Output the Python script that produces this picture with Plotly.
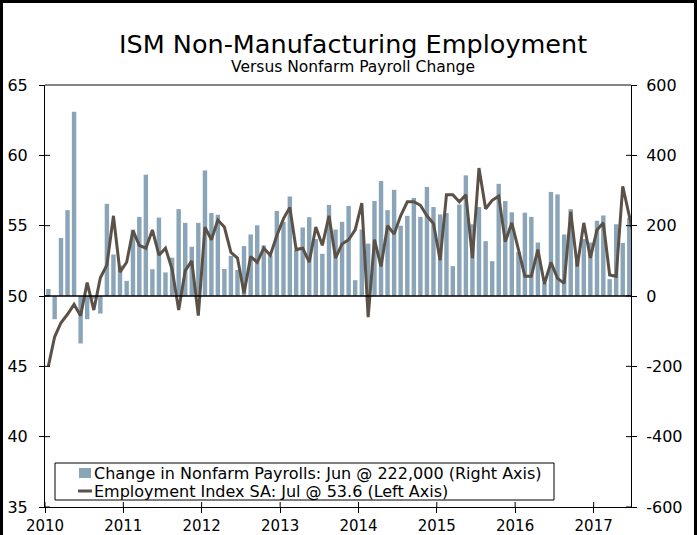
import pandas as pd
import plotly.graph_objects as go

# ---------------- data ----------------
start_month = "2010-01-01"
payroll_change = [  # thousands, Jan 2010 - Jun 2017 (right axis)
    20, -66, 165, 244, 524, -135, -66, -8, -50, 262, 118, 87,
    43, 189, 225, 345, 76, 223, 67, 109, 247, 208, 140, 208,
    357, 236, 231, 77, 114, 74, 142, 175, 201, 144, 116, 242,
    211, 283, 130, 195, 224, 162, 120, 259, 189, 211, 256, 45,
    189, 149, 270, 327, 244, 302, 200, 228, 279, 225, 310, 253,
    232, 236, 85, 260, 343, 204, 253, 156, 99, 319, 270, 238,
    125, 237, 225, 152, 36, 296, 289, 175, 247, 100, 162, 152,
    214, 229, 48, 204, 151, 222,
]
employment_index = [  # ISM non-manufacturing employment, Jan 2010 - Jul 2017 (left axis)
    45.0, 47.1, 48.1, 48.7, 49.4, 48.6, 50.95, 49.0, 51.3, 52.2, 55.7, 51.7,
    52.4, 54.65, 53.6, 53.4, 54.7, 52.9, 53.4, 51.9, 49.0, 51.8, 52.5, 48.6,
    54.9, 54.0, 55.4, 54.9, 53.1, 52.7, 50.2, 52.8, 52.4, 53.4, 52.9, 54.3,
    55.5, 56.3, 53.3, 53.4, 52.4, 54.9, 53.6, 55.7, 52.7, 53.7, 54.0, 54.7,
    56.6, 48.5, 54.0, 52.1, 55.0, 54.4, 55.7, 56.7, 56.7, 56.45, 55.7, 55.15,
    52.55, 57.2, 57.2, 56.7, 57.2, 52.7, 59.1, 56.2, 56.8, 57.1, 53.85, 55.2,
    53.3, 51.4, 51.4, 53.3, 50.85, 52.4, 51.25, 50.9, 56.0, 52.1, 55.2, 52.7,
    54.7, 55.2, 51.5, 51.4, 57.8, 55.8, 53.6,
]
year_ticks = ["2010", "2011", "2012", "2013", "2014", "2015", "2016", "2017"]
left_ticks = [35, 40, 45, 50, 55, 60, 65]
right_ticks = [-600, -400, -200, 0, 200, 400, 600]
right_tick_text = ["-600", "-400", "-200", "0", "200", "400", "600"]

bar_name = "Change in Nonfarm Payrolls: Jun @ 222,000 (Right Axis)"
line_name = "Employment Index SA: Jul @ 53.6 (Left Axis)"

months_bar = pd.date_range(start_month, periods=len(payroll_change), freq="MS")
months_line = pd.date_range(start_month, periods=len(employment_index), freq="MS")

FONT = "DejaVu Sans"
BAR_COLOR = "#8BA5B8"
LINE_COLOR = "#5B5147"
TICK_FS = 16

W, H = 697, 535
ML, MR, MT, MB = 45, 66, 85, 28
PW, PH = W - ML - MR, H - MT - MB


def px_x(px):
    return (px - ML) / PW


def px_y(py):
    return 1 - (py - MT) / PH


fig = go.Figure()
fig.add_trace(go.Bar(
    x=months_bar, y=payroll_change, name=bar_name,
    xperiod="M1", xperiodalignment="middle",
    marker=dict(color=BAR_COLOR, line=dict(width=0)),
    yaxis="y", showlegend=False,
))
fig.add_trace(go.Scatter(
    x=months_line, y=employment_index, name=line_name, mode="lines",
    xperiod="M1", xperiodalignment="middle",
    line=dict(color=LINE_COLOR, width=3),
    yaxis="y2", showlegend=False,
))

fig.update_layout(
    width=W, height=H, autosize=False,
    margin=dict(l=ML, r=MR, t=MT, b=MB, pad=0, autoexpand=False),
    paper_bgcolor="white", plot_bgcolor="white",
    font=dict(family=FONT, size=TICK_FS, color="black"),
    bargap=0.3,
    showlegend=False,
    xaxis=dict(
        type="date", range=["2010-01-01", "2017-06-24"],
        tickvals=[f"{y}-01-01" for y in year_ticks], ticktext=year_ticks,
        showline=True, linecolor="black", linewidth=1,
        ticks="outside", ticklen=5, tickcolor="black",
        showgrid=False, zeroline=False, anchor="y", automargin=False,
        ticklabelstandoff=0,
        tickfont=dict(size=15),
    ),
    yaxis=dict(
        side="right", range=[-600, 600],
        tickvals=right_ticks, ticktext=right_tick_text,
        showline=True, linecolor="black", linewidth=1,
        ticks="outside", ticklen=5, tickcolor="black",
        showgrid=False, zeroline=False,
        ticklabelstandoff=6, automargin=False,
        tickfont=dict(size=TICK_FS),
    ),
    yaxis2=dict(
        side="left", overlaying="y", range=[35, 65],
        tickvals=left_ticks,
        showline=True, linecolor="black", linewidth=1,
        ticks="outside", ticklen=5, tickcolor="black",
        showgrid=False, zeroline=False,
        ticklabelstandoff=8, automargin=False,
        tickfont=dict(size=TICK_FS),
    ),
)

# zero line of the payroll axis, drawn over the bars
fig.add_shape(type="line", xref="paper", yref="y", x0=0, x1=1, y0=0, y1=0,
              line=dict(color="black", width=1.5), layer="above")

# inner halves of the crossing tick marks
for v in left_ticks:
    fig.add_shape(type="line", xref="paper", yref="y2", xsizemode="pixel", xanchor=0,
                  x0=0, x1=5, y0=v, y1=v, line=dict(color="black", width=1))
for v in right_ticks:
    fig.add_shape(type="line", xref="paper", yref="y", xsizemode="pixel", xanchor=1,
                  x0=-5, x1=0, y0=v, y1=v, line=dict(color="black", width=1))
for y in year_ticks:
    fig.add_shape(type="line", xref="x", yref="paper", ysizemode="pixel", yanchor=0,
                  x0=f"{y}-01-01", x1=f"{y}-01-01", y0=0, y1=5,
                  line=dict(color="black", width=1))

# title & subtitle
fig.add_annotation(text="ISM Non-Manufacturing Employment", xref="paper", yref="paper",
                   x=px_x(353), y=px_y(44), showarrow=False,
                   xanchor="center", yanchor="middle",
                   font=dict(family=FONT, size=25.5, color="black"))
fig.add_annotation(text="Versus Nonfarm Payroll Change", xref="paper", yref="paper",
                   x=px_x(353), y=px_y(67), showarrow=False,
                   xanchor="center", yanchor="middle",
                   font=dict(family=FONT, size=15.5, color="black"))

# legend (compact box like the original)
fig.add_shape(type="rect", xref="paper", yref="paper",
              x0=px_x(55), x1=px_x(554), y0=px_y(500), y1=px_y(463),
              line=dict(color="black", width=1), fillcolor="white", layer="above")
fig.add_shape(type="rect", xref="paper", yref="paper",
              x0=px_x(79), x1=px_x(91), y0=px_y(478), y1=px_y(468),
              line=dict(width=0), fillcolor=BAR_COLOR, layer="above")
fig.add_shape(type="line", xref="paper", yref="paper",
              x0=px_x(78), x1=px_x(92), y0=px_y(491), y1=px_y(491),
              line=dict(color=LINE_COLOR, width=3), layer="above")
fig.add_annotation(text=bar_name, xref="paper", yref="paper",
                   x=px_x(92), y=px_y(473), showarrow=False,
                   xanchor="left", yanchor="middle",
                   font=dict(family=FONT, size=TICK_FS, color="black"))
fig.add_annotation(text=line_name, xref="paper", yref="paper",
                   x=px_x(92), y=px_y(491), showarrow=False,
                   xanchor="left", yanchor="middle",
                   font=dict(family=FONT, size=TICK_FS, color="black"))

# grey top border of plot area
fig.add_shape(type="line", xref="paper", yref="paper", x0=0, x1=1, y0=1, y1=1,
              line=dict(color="#858585", width=2))
# outer black frame
fig.add_shape(type="rect", xref="paper", yref="paper",
              x0=px_x(1.5), x1=px_x(W - 1.5), y0=px_y(H + 10), y1=px_y(1.5),
              line=dict(color="black", width=3), fillcolor="rgba(0,0,0,0)", layer="above")

fig.write_html("out.html", config={"displayModeBar": False},
               post_script="document.body.style.margin='0';")
